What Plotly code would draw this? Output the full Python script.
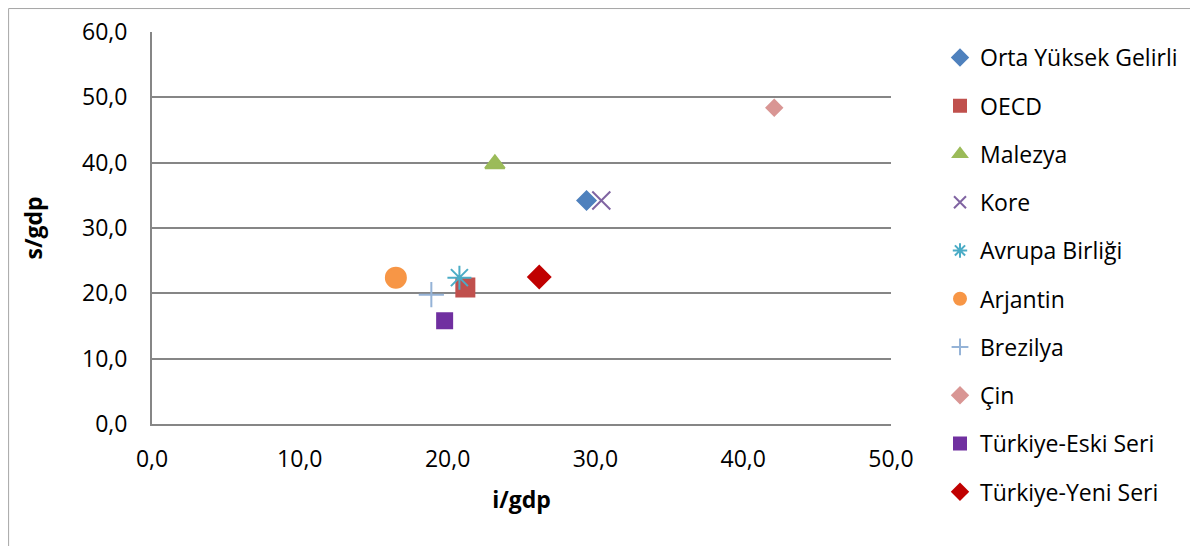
import plotly.graph_objects as go

names = ["Orta Yüksek Gelirli", "OECD", "Malezya", "Kore", "Avrupa Birliği",
         "Arjantin", "Brezilya", "Çin", "Türkiye-Eski Seri", "Türkiye-Yeni Seri"]
i_gdp = [29.4, 21.2, 23.2, 30.4, 20.8, 16.5, 18.9, 42.1, 19.8, 26.2]
s_gdp = [34.2, 20.9, 39.8, 34.2, 22.4, 22.4, 19.8, 48.4, 15.8, 22.5]

colors = ["#4F81BD", "#C0504D", "#9BBB59", "#8064A2", "#4BACC6",
          "#F79646", "#95B3D7", "#D99694", "#7030A0", "#C00000"]
symbols = ["diamond", "square", "triangle-up", "x-thin-open", "asterisk-open",
           "circle", "cross-thin-open", "diamond", "square", "diamond"]
sizes = [14, 18, 17, 18, 20, 20, 18, 12, 15, 17]

W, H = 1190, 538
# plot area in figure pixels
px0, px1, py0, py1 = 144, 883, 24, 416

fig = go.Figure()
for k in range(len(names)):
    fig.add_trace(go.Scatter(
        x=[i_gdp[k]], y=[s_gdp[k]], mode="markers", name=names[k],
        legendgroup=f"g{k}",
        marker=dict(symbol=symbols[k], size=sizes[k], color=colors[k],
                    line=dict(color=colors[k], width=2))
    ))

font_family = "Open Sans, sans-serif"
fig.update_layout(
    width=W, height=H,
    paper_bgcolor="white", plot_bgcolor="white",
    margin=dict(l=0, r=0, t=0, b=0, autoexpand=False),
    separators=",.",
    font=dict(family=font_family, size=23, color="#000000"),
    showlegend=True,
    legend=dict(x=932 / W, y=1 - 28 / H, xanchor="left", yanchor="top",
                traceorder="grouped", tracegroupgap=15.35,
                font=dict(size=23, color="#000000"),
                itemsizing="constant", bgcolor="rgba(0,0,0,0)"),
    xaxis=dict(domain=[px0 / W, px1 / W], range=[0, 50], dtick=10,
               tickformat=".1f", showgrid=False, automargin=False,
               zeroline=False, showline=True, linecolor="#868686", linewidth=2,
               ticks="", ticklabelstandoff=13,
               title=dict(text="<b>i/gdp</b>", font=dict(size=23), standoff=19),
               tickfont=dict(size=23)),
    yaxis=dict(domain=[1 - py1 / H, 1 - py0 / H], range=[0, 60], dtick=10,
               tickformat=".1f", showgrid=True, automargin=False,
               gridcolor="#868686", gridwidth=2, zeroline=False, showline=True,
               linecolor="#868686", linewidth=2, ticks="", ticklabelstandoff=18,
               title=dict(text="<b>s/gdp</b>", font=dict(size=23), standoff=33),
               tickfont=dict(size=23)),
    shapes=[dict(type="rect", xref="paper", yref="paper",
                 x0=0.0005, x1=1.2, y0=-0.2, y1=0.999,
                 line=dict(color="#A6A6A6", width=1), fillcolor="rgba(0,0,0,0)",
                 layer="below")]
)

fig.write_html("out.html")
